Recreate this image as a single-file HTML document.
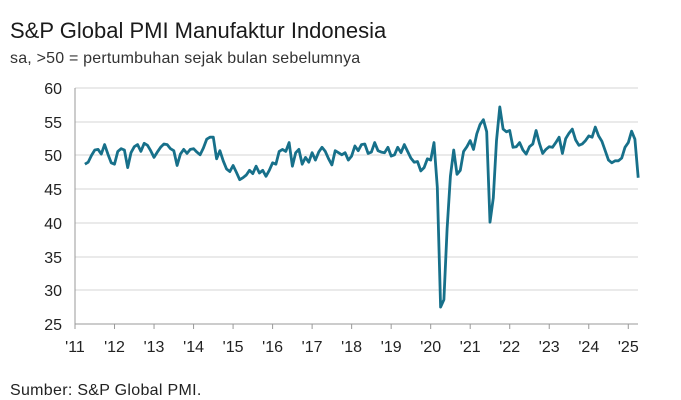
<!DOCTYPE html>
<html><head><meta charset="utf-8"><style>
body{margin:0;background:#fff;width:681px;height:400px;overflow:hidden;font-family:"Liberation Sans",sans-serif;color:#222}
svg{position:absolute;left:0;top:0}
</style></head><body>
<svg width="681" height="400" xmlns="http://www.w3.org/2000/svg" font-family="Liberation Sans, sans-serif">
<text x="10" y="38" font-size="22" fill="#1a1a1a">S&amp;P Global PMI Manufaktur Indonesia</text>
<text x="10" y="63" font-size="16" fill="#333" letter-spacing="0.2">sa, &gt;50 = pertumbuhan sejak bulan sebelumnya</text>
<g stroke="#d4d4d4" stroke-width="1">
<line x1="75" x2="638" y1="88" y2="88"/><line x1="75" x2="638" y1="122" y2="122"/>
<line x1="75" x2="638" y1="155" y2="155"/><line x1="75" x2="638" y1="189" y2="189"/>
<line x1="75" x2="638" y1="223" y2="223"/><line x1="75" x2="638" y1="257" y2="257"/>
<line x1="75" x2="638" y1="290" y2="290"/>
</g>
<g stroke="#999" stroke-width="1"><line x1="75" x2="75" y1="88" y2="324"/><line x1="75" x2="638" y1="324" y2="324"/></g>
<g id="ticks" stroke="#999"></g>
<g font-size="16" fill="#222" text-anchor="end">
<text x="62" y="94">60</text><text x="62" y="128">55</text><text x="62" y="161">50</text>
<text x="62" y="195">45</text><text x="62" y="229">40</text><text x="62" y="263">35</text>
<text x="62" y="296">30</text><text x="62" y="330">25</text>
</g>
<g font-size="16" fill="#222" text-anchor="middle">
<text x="75" y="352">'11</text><text x="114.5" y="352">'12</text><text x="154" y="352">'13</text>
<text x="193.6" y="352">'14</text><text x="233.1" y="352">'15</text><text x="272.6" y="352">'16</text>
<text x="312.1" y="352">'17</text><text x="351.6" y="352">'18</text><text x="391.2" y="352">'19</text>
<text x="430.7" y="352">'20</text><text x="470.2" y="352">'21</text><text x="509.7" y="352">'22</text>
<text x="549.2" y="352">'23</text><text x="588.8" y="352">'24</text><text x="628.3" y="352">'25</text>
</g>
<polyline id="pl" fill="none" stroke="#17708a" stroke-width="2.8" stroke-linejoin="round" points=""/>
<text x="10" y="395" font-size="16" fill="#222" letter-spacing="0.3">Sumber: S&amp;P Global PMI.</text>
</svg>
<script>
var d=[48.7,49.0,50.0,50.8,50.9,50.2,51.6,50.2,48.9,
48.7,50.6,51.0,50.8,48.2,50.4,51.3,51.6,50.6,51.8,51.5,50.7,
49.7,50.5,51.2,51.7,51.6,51.0,50.7,48.5,50.2,50.9,50.3,50.9,
51.0,50.5,50.1,51.1,52.4,52.7,52.7,49.5,50.7,49.2,48.0,47.6,
48.5,47.5,46.4,46.7,47.1,47.8,47.3,48.4,47.4,47.8,46.9,47.8,
48.9,48.7,50.6,50.9,50.6,51.9,48.4,50.4,50.9,48.7,49.7,49.0,
50.4,49.3,50.5,51.2,50.6,49.5,48.6,50.7,50.4,50.1,50.4,49.3,
49.9,51.4,50.7,51.6,51.7,50.3,50.5,51.9,50.7,50.5,50.4,51.2,
49.9,50.1,51.2,50.4,51.6,50.6,49.6,49.0,49.1,47.7,48.2,49.5,
49.3,51.9,45.3,27.5,28.6,39.1,46.9,50.8,47.2,47.8,50.6,51.3,
52.2,50.9,53.2,54.6,55.3,53.5,40.1,43.7,52.2,57.2,53.9,53.5,
53.7,51.2,51.3,51.9,50.8,50.2,51.3,51.7,53.7,51.8,50.3,50.9,
51.3,51.2,51.9,52.7,50.3,52.5,53.3,53.9,52.3,51.5,51.7,52.2,
52.9,52.7,54.2,52.9,52.1,50.7,49.3,48.9,49.2,49.2,49.6,51.2,
51.9,53.6,52.4,46.7];
var p=[],m=39.52/12;
for(var i=0;i<d.length;i++){var x=75+(i+3)*m;var y=324-(d[i]-25)*6.743;p.push(x.toFixed(1)+','+y.toFixed(1));}
document.getElementById('pl').setAttribute('points',p.join(' '));
var t='';for(var k=0;k<15;k++){var x=75+k*39.52;t+='<line x1="'+x+'" x2="'+x+'" y1="324" y2="329"/>';}
document.getElementById('ticks').innerHTML=t;
</script>
</body></html>
